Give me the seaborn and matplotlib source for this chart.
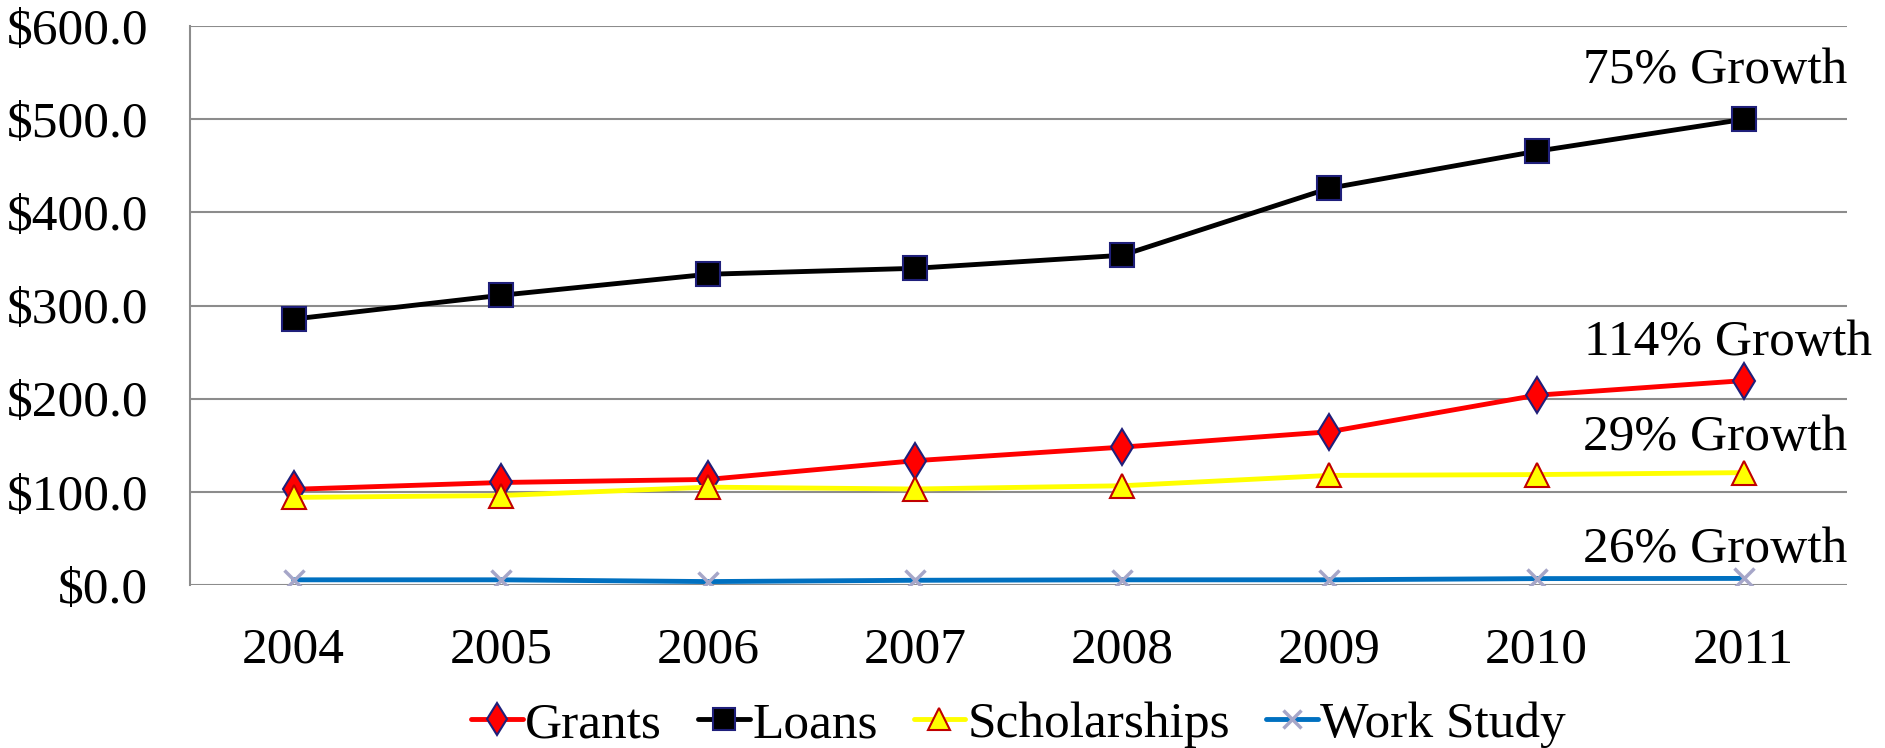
import matplotlib
matplotlib.use('Agg')
import matplotlib.pyplot as plt
import seaborn as sns
import numpy as np

years = ['2004', '2005', '2006', '2007', '2008', '2009', '2010', '2011']
grants = [102.7, 110.0, 113.3, 133.4, 148.0, 164.5, 203.7, 219.4]
loans = [285.5, 311.0, 333.6, 340.0, 354.0, 426.0, 465.7, 500.0]
scholarships = [94.0, 96.0, 105.0, 103.0, 106.5, 117.6, 118.5, 120.6]
work_study = [5.5, 5.5, 3.6, 5.0, 5.5, 5.5, 6.8, 7.0]
growth_labels = ['75% Growth', '114% Growth', '29% Growth', '26% Growth']

sns.set_style('white')
plt.rcParams['font.family'] = ['Liberation Serif', 'DejaVu Serif']
plt.rcParams['text.color'] = 'black'
plt.rcParams['xtick.color'] = 'black'
plt.rcParams['ytick.color'] = 'black'

fig, ax = plt.subplots(figsize=(18.85, 7.48), dpi=100)
fig.subplots_adjust(left=0.1008, right=0.980, top=0.965, bottom=0.218)

x = np.arange(len(years))
fs = 37

sns.lineplot(x=x, y=grants, ax=ax, color='#FF0000', lw=3.5, marker='d', ms=18,
             mfc='#FF0000', mec='#1F1F7A', mew=1.5, label='Grants')
sns.lineplot(x=x, y=loans, ax=ax, color='black', lw=3.5, marker='s', ms=17,
             mfc='black', mec='#1F1F7A', mew=1.5, label='Loans')
sns.lineplot(x=x, y=scholarships, ax=ax, color='#FFFF00', lw=3.5, marker='^', ms=17,
             mfc='#FFFF00', mec='#C00000', mew=1.5, label='Scholarships')
sns.lineplot(x=x, y=work_study, ax=ax, color='#0070C0', lw=3.5, marker='x', ms=15,
             mec='#A6A6C8', mew=2.5, label='Work Study')

ax.set_xlim(-0.5, 7.5)
ax.set_ylim(0, 600)
ax.set_yticks(np.arange(0, 601, 100))
ax.set_yticklabels(['$%.1f' % v for v in np.arange(0, 601, 100)])
ax.set_xticks(x)
ax.set_xticklabels(years)
ax.tick_params(axis='y', length=0, pad=30, labelsize=fs)
ax.tick_params(axis='x', length=0, pad=30, labelsize=fs)
ax.set_xlabel('')
ax.set_ylabel('')

ax.grid(axis='y', color='#8C8C8C', lw=1.5)
ax.set_axisbelow(True)
for s in ['top', 'right', 'bottom']:
    ax.spines[s].set_visible(False)
ax.spines['left'].set_color('#8C8C8C')
ax.spines['left'].set_linewidth(1.5)

ax.text(7.5, 552, growth_labels[0], ha='right', va='center', fontsize=fs)
ax.text(7.62, 260, growth_labels[1], ha='right', va='center', fontsize=fs)
ax.text(7.5, 158, growth_labels[2], ha='right', va='center', fontsize=fs)
ax.text(7.5, 38, growth_labels[3], ha='right', va='center', fontsize=fs)

ax.legend(loc='center', bbox_to_anchor=(0.5, -0.25), ncol=4, frameon=False,
          fontsize=fs, handlelength=1.0, handletextpad=0.05, columnspacing=0.7,
          borderpad=0.1, markerscale=0.9)

fig.savefig('out.png', dpi=100)
